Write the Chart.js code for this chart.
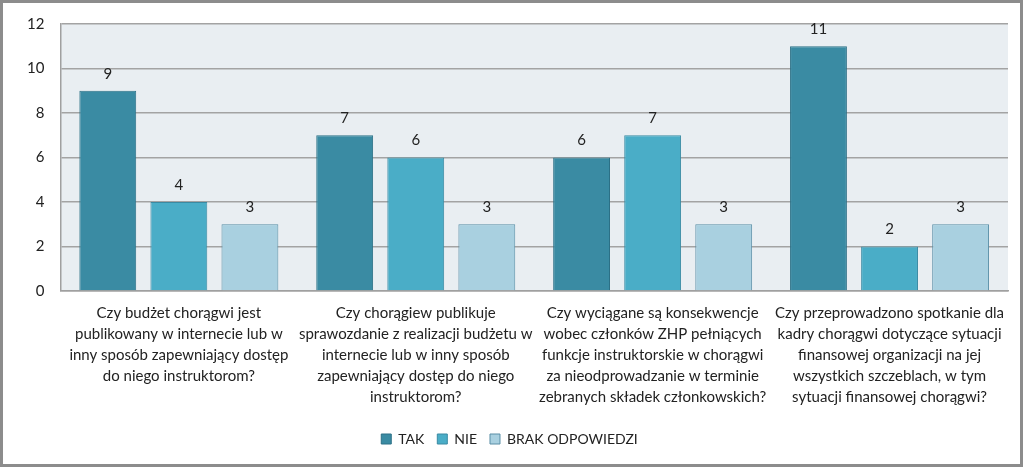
<!DOCTYPE html>
<html><head><meta charset="utf-8">
<script src="https://cdn.jsdelivr.net/npm/chart.js@4"></script>
<style>
html,body{margin:0;padding:0;background:#fff;}
#wrap{width:1023px;height:467px;box-sizing:border-box;border:3px solid #8c8c8c;position:relative;overflow:hidden;}
canvas{display:block;margin-top:-4px;}
</style></head>
<body><div id="wrap"><canvas id="c" width="1017" height="465"></canvas></div>
<script>
const categories = [
  ["Czy budżet chorągwi jest","publikowany w internecie lub w","inny sposób zapewniający dostęp","do niego instruktorom?"],
  ["Czy chorągiew publikuje","sprawozdanie z realizacji budżetu w","internecie lub w inny sposób","zapewniający dostęp do niego","instruktorom?"],
  ["Czy wyciągane są konsekwencje","wobec członków ZHP pełniących","funkcje instruktorskie w chorągwi","za nieodprowadzanie w terminie","zebranych składek członkowskich?"],
  ["Czy przeprowadzono spotkanie dla","kadry chorągwi dotyczące sytuacji","finansowej organizacji na jej","wszystkich szczeblach, w tym","sytuacji finansowej chorągwi?"]
];
const seriesNames = ["TAK","NIE","BRAK ODPOWIEDZI"];
const takValues = [9,7,6,11];
const nieValues = [4,6,7,2];
const brakValues = [3,3,3,3];
const yTicks = [0,2,4,6,8,10,12];

const FONT = "Lato, 'Open Sans', sans-serif";

const bgPlugin = {
  id:'bg',
  beforeDraw(chart){
    const {ctx, chartArea:a} = chart;
    ctx.save(); ctx.fillStyle='#e9eef2';
    ctx.fillRect(a.left,a.top,a.right-a.left,a.bottom-a.top);
    ctx.restore();
  }
};
const labelPlugin = {
  id:'vals',
  afterDatasetsDraw(chart){
    const ctx = chart.ctx;
    ctx.save();
    ctx.font = "15px " + FONT;
    ctx.fillStyle = '#222';
    ctx.textAlign='center'; ctx.textBaseline='middle';
    chart.data.datasets.forEach((ds,i)=>{
      chart.getDatasetMeta(i).data.forEach((bar,j)=>{
        ctx.fillText(String(ds.data[j]), bar.x, bar.y - 17);
      });
    });
    ctx.restore();
  }
};

new Chart(document.getElementById('c'), {
  type:'bar',
  data:{
    labels: categories,
    datasets:[
      {label:seriesNames[0], data:takValues, backgroundColor:'#3a8ba3', borderColor:'#2c7087', borderWidth:1},
      {label:seriesNames[1], data:nieValues, backgroundColor:'#4aadc7', borderColor:'#3a8aa3', borderWidth:1},
      {label:seriesNames[2], data:brakValues, backgroundColor:'#a9d0e0', borderColor:'#5a8ea6', borderWidth:1}
    ]
  },
  options:{
    responsive:false, animation:false,
    devicePixelRatio:1,
    layout:{padding:{left:8,right:12,top:13,bottom:8}},
    datasets:{bar:{categoryPercentage:0.9, barPercentage:0.8}},
    scales:{
      x:{
        afterFit(axis){ axis.height += 7; },
        grid:{display:false},
        border:{display:true,color:'#a0a0a0',width:1.5},
        ticks:{maxRotation:0,minRotation:0,autoSkip:false,color:'#222',font:{size:15,family:FONT,lineHeight:1.4},padding:4}
      },
      y:{
        min:0,max:12,
        afterBuildTicks(axis){ axis.ticks = yTicks.map(v=>({value:v})); },
        grid:{color:'#a3a3a3',lineWidth:1.5,drawTicks:false},
        border:{display:true,color:'#a0a0a0',width:1.5},
        ticks:{color:'#222',font:{size:15,family:FONT},padding:16}
      }
    },
    plugins:{
      legend:{position:'bottom',labels:{boxWidth:10,boxHeight:10,color:'#222',font:{size:14,family:FONT},padding:13}},
      tooltip:{enabled:false}
    }
  },
  plugins:[bgPlugin,labelPlugin]
});
</script>
</body></html>
